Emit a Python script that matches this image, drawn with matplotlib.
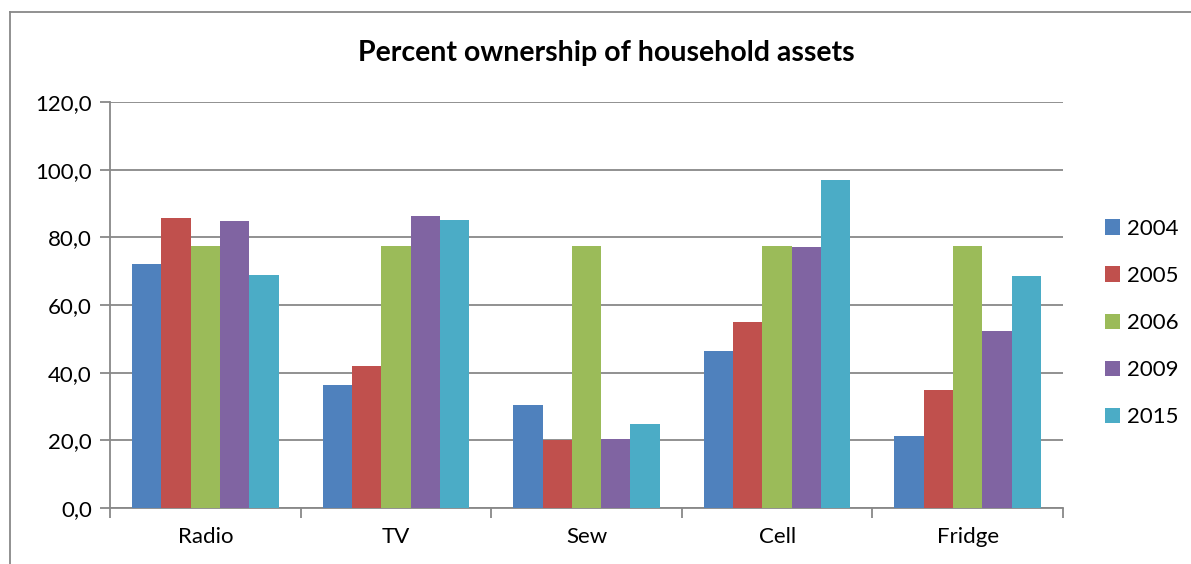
import matplotlib.pyplot as plt
import numpy as np
from matplotlib.lines import Line2D

assets = ["Radio", "TV", "Sew", "Cell", "Fridge"]
years = ["2004", "2005", "2006", "2009", "2015"]
own_2004 = [72.0, 36.5, 30.3, 46.5, 21.4]
own_2005 = [85.7, 41.9, 20.2, 55.0, 34.9]
own_2006 = [77.3, 77.3, 77.3, 77.3, 77.3]
own_2009 = [84.7, 86.2, 20.3, 77.2, 52.3]
own_2015 = [69.0, 85.2, 24.7, 96.8, 68.5]
yticks = [0, 20, 40, 60, 80, 100, 120]
ytick_labels = ["0,0", "20,0", "40,0", "60,0", "80,0", "100,0", "120,0"]

colors = ["#4F81BD", "#C0504D", "#9BBB59", "#8064A2", "#4BACC6"]
grid_col = "#888888"

plt.rcParams["font.family"] = ["Lato", "DejaVu Sans"]

W, H = 1191, 564
fig = plt.figure(figsize=(W / 100, H / 100), dpi=100)
ax = fig.add_axes([110 / W, 1 - 508 / H, (1063 - 110) / W, (508 - 102) / H])

# chart frame (runs off the right and bottom edges)
fig.add_artist(Line2D([10 / W, 10 / W], [1 - 12 / H, -0.05], transform=fig.transFigure,
                      color=grid_col, lw=1.3))
fig.add_artist(Line2D([10 / W, 1.05], [1 - 12 / H, 1 - 12 / H], transform=fig.transFigure,
                      color=grid_col, lw=1.3))

x = np.arange(len(assets))
series = [own_2004, own_2005, own_2006, own_2009, own_2015]
bw = 1 / 6.5
for i, (vals, yr) in enumerate(zip(series, years)):
    ax.bar(x + (i - 2) * bw, vals, width=bw, color=colors[i], label=yr, zorder=3)

ax.set_xlim(-0.5, len(assets) - 0.5)
ax.set_ylim(0, 120)
ax.set_yticks(yticks)
ax.set_yticklabels(ytick_labels, fontsize=16)
ax.yaxis.grid(True, color=grid_col, lw=1.3, zorder=0)
ax.set_axisbelow(True)

# category labels centred, tick marks on the boundaries
ax.set_xticks(x)
ax.set_xticklabels(assets, fontsize=16)
ax.tick_params(axis="x", length=0, pad=14)
ax.set_xticks(np.arange(len(assets) + 1) - 0.5, minor=True)
ax.tick_params(axis="x", which="minor", length=7, width=1.3, color=grid_col, direction="out")
ax.tick_params(axis="y", length=7, width=1.3, color=grid_col, pad=6)

for s in ["top", "right"]:
    ax.spines[s].set_visible(False)
for s in ["left", "bottom"]:
    ax.spines[s].set_color(grid_col)
    ax.spines[s].set_linewidth(1.3)

fig.text(606 / W, 1 - 53 / H, "Percent ownership of household assets", ha="center", va="center",
         fontsize=20.5, fontweight="bold")

ax.legend(loc="center left", bbox_to_anchor=(1105 / W, 1 - 323 / H), bbox_transform=fig.transFigure,
          frameon=False, fontsize=16, handlelength=0.68, handleheight=0.68, handletextpad=0.32,
          labelspacing=1.22, borderpad=0, borderaxespad=0)

fig.savefig("out.png", dpi=100)
